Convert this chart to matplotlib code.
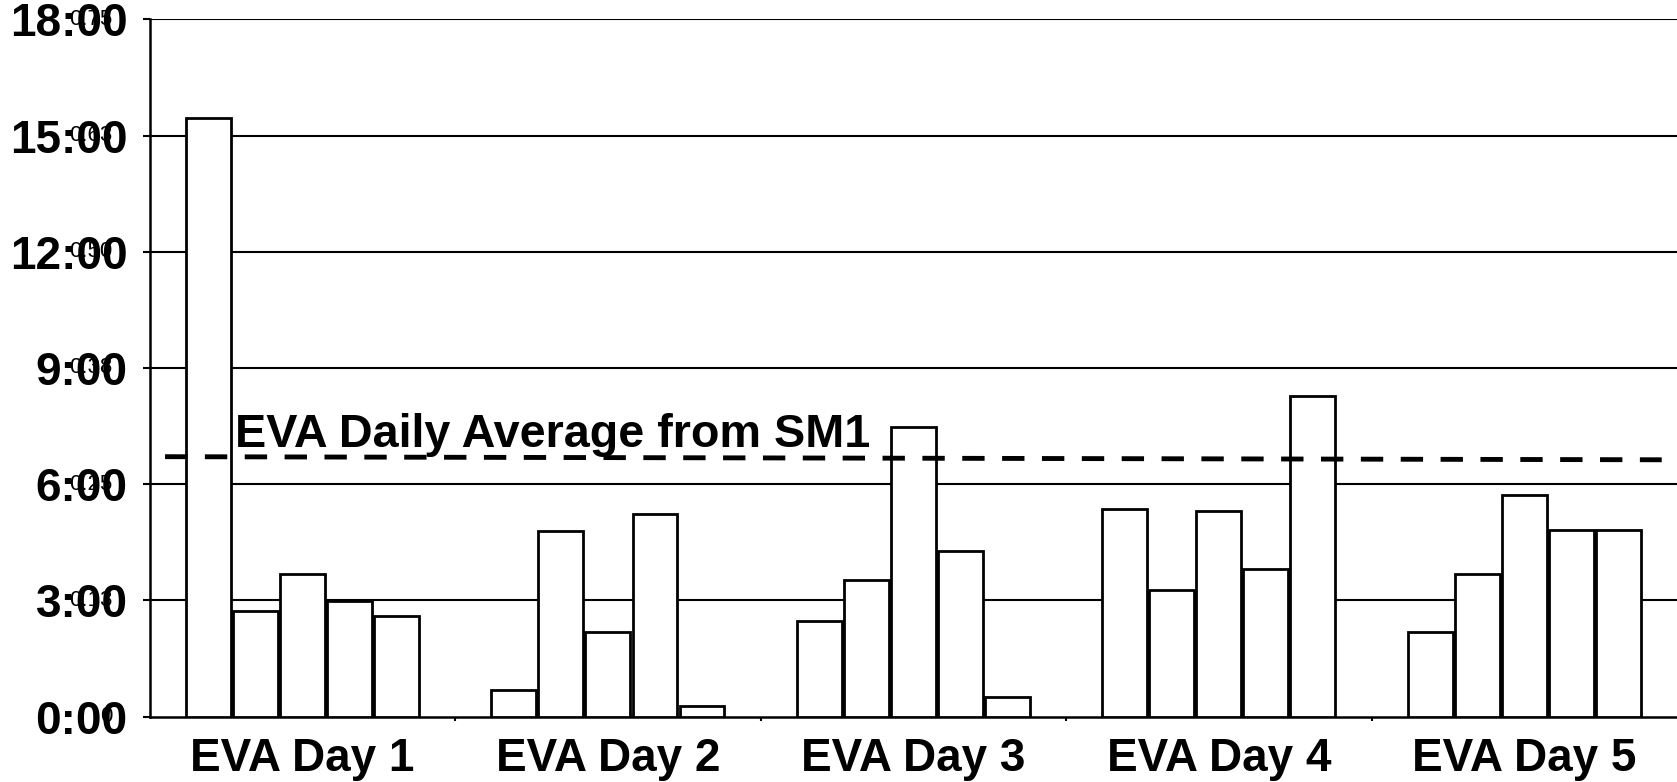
import numpy as np
import matplotlib.pyplot as plt
from matplotlib import transforms

# EVA durations in hours, five EVAs per day
days = ['EVA Day 1', 'EVA Day 2', 'EVA Day 3', 'EVA Day 4', 'EVA Day 5']
eva1 = [15.46, 0.69, 2.46, 5.36, 2.18]
eva2 = [2.73, 4.78, 3.53, 3.26, 3.67]
eva3 = [3.67, 2.18, 7.48, 5.30, 5.72]
eva4 = [2.98, 5.22, 4.28, 3.81, 4.83]
eva5 = [2.60, 0.28, 0.50, 8.28, 4.83]

# SM1 daily average (line drawn slightly tilted in the original)
avg_x = [-0.45, 4.45]
avg_y = [6.71, 6.63]
avg_label = 'EVA Daily Average from SM1'

ytick_hours = [0, 3, 6, 9, 12, 15, 18]
ytick_labels = ['0:00', '3:00', '6:00', '9:00', '12:00', '15:00', '18:00']
ytick_fraction = ['0', '0.13', '0.25', '0.38', '0.50', '0.63', '0.75']

plt.rcParams['font.family'] = ['Liberation Sans', 'DejaVu Sans']

fig = plt.figure(figsize=(16.77, 7.82), dpi=100)
ax = fig.add_axes([0.0893, 0.0836, 0.9107, 0.8917])

x = np.arange(len(days))
step = 0.154
width = 0.147
series = [eva1, eva2, eva3, eva4, eva5]
for i, vals in enumerate(series):
    ax.bar(x + (i - 2) * step, vals, width=width, color='white',
           edgecolor='black', linewidth=2.0, zorder=3)

# grid lines behind the bars
for h in ytick_hours[1:]:
    ax.axhline(h, color='black', linewidth=1.5, zorder=1)

# average line and its label
ax.plot(avg_x, avg_y, color='black', linewidth=3.5, dashes=(4.6, 3.6), zorder=4)
ax.text(-0.22, 6.96, avg_label, fontsize=33.7, fontweight='bold',
        va='baseline', ha='left', zorder=5)

ax.set_xlim(-0.5, 4.5)
ax.set_ylim(0, 18)
ax.set_yticks(ytick_hours)
ax.set_yticklabels(ytick_labels, fontsize=33, fontweight='bold')
ax.set_xticks(x)
ax.set_xticklabels(days, fontsize=33, fontweight='bold')
ax.set_xticks([0.5, 1.5, 2.5, 3.5], minor=True)
ax.tick_params(axis='x', which='major', length=0, pad=15)
ax.tick_params(axis='x', which='minor', length=3, width=1.5, direction='out')
ax.tick_params(axis='y', length=5, width=1.5, pad=11)

# the second (fraction-of-day) labels that overlap the hour labels
trans = transforms.blended_transform_factory(ax.transAxes, ax.transData)
for h, lab in zip(ytick_hours, ytick_fraction):
    ax.text(-0.0247, h, lab, transform=trans, fontsize=16, ha='right',
            va='center', clip_on=False)

for side in ['top', 'right']:
    ax.spines[side].set_visible(False)
for side in ['left', 'bottom']:
    ax.spines[side].set_linewidth(1.8)

fig.savefig('out.png', dpi=100)
